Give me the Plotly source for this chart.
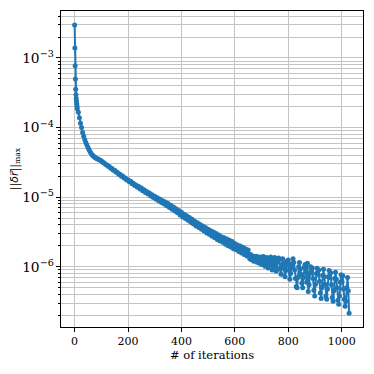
import plotly.graph_objects as go

# residual values, in units of 1e-6
iters_head = list(range(0, 11))
resid_head = [2980, 1390, 770, 500, 355, 295, 262, 238, 218, 200, 186]

iters_early = list(range(14, 91, 4))
resid_early = [166, 138, 115, 100, 85, 75, 67, 61, 56, 51.5,
               48, 45, 42.5, 40.5, 39, 37.8, 36.8, 36, 35.4, 34.9]

iters_mid = list(range(95, 651, 5))
resid_mid = [34.0, 33.4, 31.8, 31.2, 29.7, 29.3, 27.8, 27.6, 26.0, 25.8,
             24.4, 24.3, 22.9, 22.8, 21.4, 21.4, 20.0, 20.1, 18.8, 18.9,
             17.6, 17.8, 16.6, 16.9, 15.6, 15.9, 14.7, 15.0, 13.9, 14.2,
             13.1, 13.5, 12.4, 12.8, 11.7, 12.1, 11.1, 11.5, 10.4, 10.8,
             9.9, 10.3, 9.35, 9.8, 8.85, 9.35, 8.4, 8.9, 7.95, 8.5,
             7.55, 8.1, 7.1, 7.65, 6.7, 7.2, 6.3, 6.8, 5.95, 6.45,
             5.55, 6.05, 5.2, 5.7, 4.95, 5.4, 4.65, 5.1, 4.35, 4.8,
             4.1, 4.5, 3.85, 4.3, 3.65, 4.05, 3.45, 3.85, 3.25, 3.65,
             3.05, 3.45, 2.9, 3.3, 2.75, 3.15, 2.6, 3.0, 2.45, 2.85,
             2.35, 2.7, 2.25, 2.6, 2.1, 2.5, 2.0, 2.4, 1.92, 2.3,
             1.82, 2.15, 1.75, 2.05, 1.66, 1.98, 1.58, 1.9, 1.5, 1.82,
             1.43, 1.74]

iters_tail_a = list(range(653, 777, 3))
resid_tail_a = [1.48, 1.30, 1.50, 1.26, 1.44, 1.36, 1.20, 1.40, 1.28, 1.42,
                1.16, 1.34, 1.38, 1.12, 1.28, 1.38, 1.08, 1.20, 1.40, 1.30,
                1.02, 1.14, 1.36, 1.24, 0.96, 1.06, 1.33, 1.38, 1.15, 0.90,
                1.00, 1.30, 1.36, 1.10, 0.86, 0.95, 1.25, 1.34, 1.28, 0.92,
                0.78, 1.05]

iters_tail_b = list(range(779, 1029, 3))
resid_tail_b = [1.30, 1.10, 0.95, 0.72, 0.88, 1.20, 1.05, 1.25, 0.90, 0.66,
                0.80, 1.10, 0.98, 1.30, 1.15, 0.90, 0.68, 0.52, 0.50, 0.70,
                1.00, 1.15, 0.92, 0.78, 0.58, 0.50, 0.70, 0.98, 1.08, 0.85,
                0.60, 1.12, 0.44, 0.55, 0.80, 1.00, 0.86, 0.96, 0.68, 0.46,
                0.38, 0.56, 0.80, 0.95, 0.78, 0.90, 0.62, 0.42, 0.35, 0.50,
                0.75, 0.92, 0.72, 0.56, 0.38, 0.34, 0.48, 0.72, 0.88, 0.70,
                0.82, 0.55, 0.36, 0.32, 0.45, 0.68, 0.83, 0.66, 0.50, 0.33,
                0.29, 0.38, 0.60, 0.77, 0.62, 0.74, 0.48, 0.34, 0.27, 0.32,
                0.50, 0.70, 0.45, 0.215]

iters = iters_head + iters_early + iters_mid + iters_tail_a + iters_tail_b
resid = [v * 1e-6 for v in
         resid_head + resid_early + resid_mid + resid_tail_a + resid_tail_b]

grid_col = '#c4c4c4'
font_fam = 'DejaVu Serif'

fig = go.Figure()
fig.add_trace(go.Scatter(x=iters, y=resid, mode='lines+markers',
                         line=dict(color='#1f77b4', width=2),
                         marker=dict(color='#1f77b4', size=5),
                         showlegend=False))

# page body keeps an 8px margin, so the figure is 358 wide to fill the 374 window
fig.update_layout(
    width=358, height=358,
    margin=dict(l=53, r=3, t=3, b=39, autoexpand=False),
    paper_bgcolor='white', plot_bgcolor='white',
    font=dict(family=font_fam, size=11, color='black'),
)
fig.update_xaxes(range=[-51, 1080], tick0=0, dtick=200, automargin=False,
                 showline=True, linecolor='black', linewidth=1, mirror=True,
                 ticks='outside', ticklen=4, tickcolor='black',
                 showgrid=True, gridcolor=grid_col, gridwidth=1, zeroline=False,
                 tickfont=dict(family=font_fam, size=11),
                 title=dict(text='# of iterations', font=dict(family=font_fam, size=11.5), standoff=0))
fig.update_yaxes(type='log', range=[-6.866, -2.325], dtick=1, automargin=False,
                 exponentformat='power',
                 showline=True, linecolor='black', linewidth=1, mirror=True,
                 ticks='outside', ticklen=4, tickcolor='black',
                 showgrid=True, gridcolor=grid_col, gridwidth=1,
                 tickfont=dict(family=font_fam, size=11),
                 minor=dict(dtick='D1', ticks='outside', ticklen=2, tickcolor='black',
                            showgrid=True, gridcolor=grid_col, gridwidth=1),
                 title=dict(text='||<span style="font-family:DejaVu Sans"><i>δr⃗</i></span>||<sub>max</sub>',
                            font=dict(family=font_fam, size=11), standoff=6))

fig.write_html("out.html")
